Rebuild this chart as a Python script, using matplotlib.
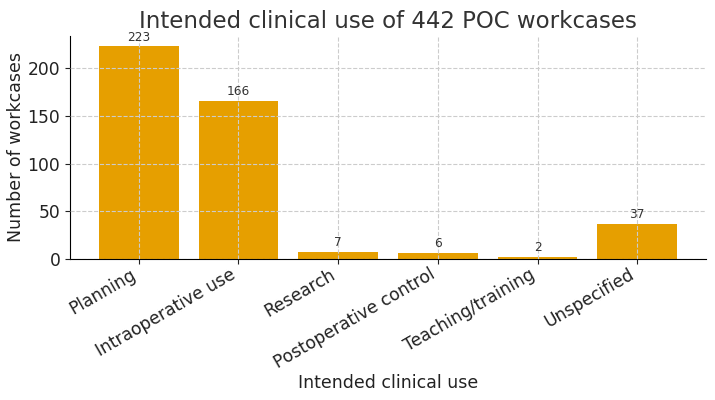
import matplotlib
matplotlib.use("Agg")
import matplotlib.pyplot as plt

categories = ["Planning", "Intraoperative use", "Research", "Postoperative control", "Teaching/training", "Unspecified"]
counts = [223, 166, 7, 6, 2, 37]

fig = plt.figure(figsize=(7.15, 4.0), dpi=100)
ax = fig.add_axes([70/715, 1-259/400, 636/715, 223/400])
bars = ax.bar(range(len(categories)), counts, width=0.8, color="#E69F00", zorder=2)
ax.grid(True, linestyle="--", color="#cccccc", linewidth=0.8, zorder=3)
ax.set_axisbelow(False)
for i, v in enumerate(counts):
    ax.text(i, v + 3, str(v), ha="center", va="bottom", fontsize=8.7, color="#333333", zorder=4)
ax.set_xticks(range(len(categories)))
ax.set_xticklabels(categories, rotation=30, ha="right", fontsize=12.3, color="#222222")
ax.tick_params(axis="y", labelsize=12.3, colors="#222222")
ax.tick_params(axis="x", colors="#222222", pad=1)
ax.set_yticks([0, 50, 100, 150, 200])
ax.set_ylim(0, 234)
ax.set_xlim(-0.69, 5.69)
ax.spines["top"].set_visible(False)
ax.spines["right"].set_visible(False)
ax.set_title("Intended clinical use of 442 POC workcases", fontsize=16.5, color="#333333")
ax.set_xlabel("Intended clinical use", fontsize=12.5, color="#222222", labelpad=1)
ax.set_ylabel("Number of workcases", fontsize=12.5, color="#222222", labelpad=2)
fig.savefig("out.png", dpi=100)
